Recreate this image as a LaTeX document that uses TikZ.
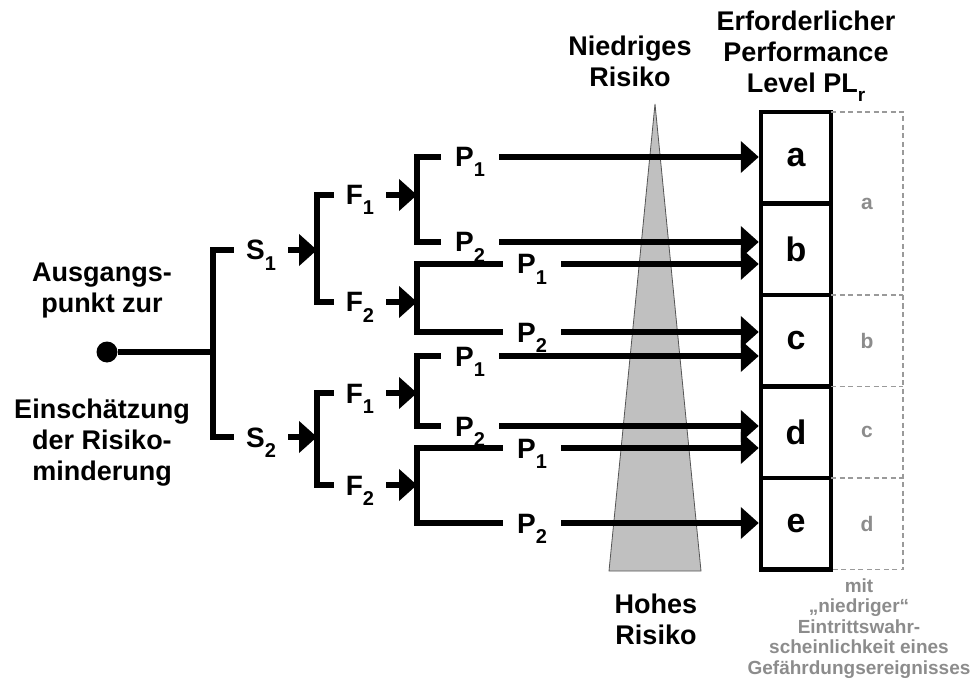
\documentclass[tikz,border=0pt]{standalone}
\usepackage{fontspec}
\setmainfont{Liberation Sans}
\usetikzlibrary{arrows.meta}

\definecolor{conegray}{HTML}{C0C0C0}
\definecolor{conerim}{HTML}{555555}
\definecolor{framegray}{HTML}{9A9A9A}
\definecolor{notegray}{HTML}{8C8C8C}

% lowered index for the risk parameters
\newcommand\idx[1]{\raisebox{-10pt}{\fontsize{20}{20}\selectfont #1}}
\newcommand\hidx[1]{\raisebox{-9pt}{\fontsize{19}{19}\selectfont #1}}

\begin{document}
\begin{tikzpicture}[x=1pt,y=-1pt,
  wire/.style={line width=6.5pt},
  flow/.style={wire,-{Triangle[length=18pt,width=31pt]}},
  var/.style={font=\bfseries\fontsize{28}{28}\selectfont, inner xsep=12pt,
    inner ysep=0pt, text height=20pt, text depth=0pt},
  pvar/.style={var, inner xsep=14pt},
  heading/.style={font=\bfseries\fontsize{27}{31}\selectfont, align=center,
    inner sep=0pt, anchor=north},
  level/.style={draw, line width=4.5pt, outer sep=0pt, minimum width=70pt,
    minimum height=91.5pt, inner sep=0pt,
    font=\bfseries\fontsize{34}{34}\selectfont},
  frame/.style={draw=framegray, line width=1.4pt, dash pattern=on 5pt off 3.5pt},
  grade/.style={text=notegray, font=\bfseries\fontsize{21}{21}\selectfont},
  remark/.style={text=notegray, font=\bfseries\fontsize{19}{20.5}\selectfont,
    align=center, inner sep=0pt, anchor=north}
]
\useasboundingbox (0,0) rectangle (975,679);

% risk cone from low to high risk
\coordinate (apex) at (655,104);
\coordinate (baseL) at (609,571);
\coordinate (baseR) at (701,571);
\filldraw[fill=conegray, draw=conerim, line width=0.8pt]
  (apex) -- (baseR) -- (baseL) -- cycle;

% titles
\node[heading] (low) at (630,35.5) {Niedriges\\Risiko};
\node[heading] (high) at (656,593.5) {Hohes\\Risiko};
\node[heading] (req) at (806,10.5) {Erforderlicher\\Performance\\Level PL\hidx{r}};
\node[heading] (orig1) at (102,263) {Ausgangs-\\punkt zur};
\node[heading] (orig2) at (102,398.3) {Einschätzung\\der Risiko-\\minderung};

% starting point and junctions
\node[circle, fill, inner sep=0pt, minimum size=21pt] (start) at (107,352) {};
\coordinate (jS) at (213,352);
\coordinate (jS1) at (317,250);
\coordinate (jS2) at (317,437);
\coordinate (jF11) at (417,195);
\coordinate (jF12) at (417,302);
\coordinate (jF21) at (417,393);
\coordinate (jF22) at (417,485);

% parameter labels
\node[var] (S1) at (261,250) {S\idx{1}};
\node[var] (S2) at (261,437) {S\idx{2}};
\node[var] (F11) at (360,195) {F\idx{1}};
\node[var] (F12) at (360,302) {F\idx{2}};
\node[var] (F21) at (360,393) {F\idx{1}};
\node[var] (F22) at (360,485) {F\idx{2}};
\node[pvar] (Pa1) at (470,157) {P\idx{1}};
\node[pvar] (Pa2) at (470,242) {P\idx{2}};
\node[pvar] (Pb1) at (532,264) {P\idx{1}};
\node[pvar] (Pb2) at (532,332) {P\idx{2}};
\node[pvar] (Pc1) at (470,356) {P\idx{1}};
\node[pvar] (Pc2) at (470,426) {P\idx{2}};
\node[pvar] (Pd1) at (532,448) {P\idx{1}};
\node[pvar] (Pd2) at (532,523) {P\idx{2}};

% required performance levels
\node[level] (La) at (796,157.75) {a};
\node[level] (Lb) at (796,249.25) {b};
\node[level] (Lc) at (796,340.75) {c};
\node[level] (Ld) at (796,432.25) {d};
\node[level] (Le) at (796,523.75) {e};

% tree
\draw[wire] (start) -- (jS);
\draw[wire] (S1.west) -| (jS) |- (S2.west);
\draw[flow] (S1.east) -- (jS1);
\draw[flow] (S2.east) -- (jS2);
\draw[wire] (F11.west) -| (jS1) |- (F12.west);
\draw[wire] (F21.west) -| (jS2) |- (F22.west);
\draw[flow] (F11.east) -- (jF11);
\draw[flow] (F12.east) -- (jF12);
\draw[flow] (F21.east) -- (jF21);
\draw[flow] (F22.east) -- (jF22);
\draw[wire] (Pa1.west) -| (jF11) |- (Pa2.west);
\draw[wire] (Pb1.west) -| (jF12) |- (Pb2.west);
\draw[wire] (Pc1.west) -| (jF21) |- (Pc2.west);
\draw[wire] (Pd1.west) -| (jF22) |- (Pd2.west);

% arrows into the levels
\begin{scope}[shorten >=2.25pt]
\draw[flow] (Pa1.east) -- (Pa1.east -| La.west);
\draw[flow] (Pa2.east) -- (Pa2.east -| Lb.west);
\draw[flow] (Pb1.east) -- (Pb1.east -| Lb.west);
\draw[flow] (Pb2.east) -- (Pb2.east -| Lc.west);
\draw[flow] (Pc1.east) -- (Pc1.east -| Lc.west);
\draw[flow] (Pc2.east) -- (Pc2.east -| Ld.west);
\draw[flow] (Pd1.east) -- (Pd1.east -| Ld.west);
\draw[flow] (Pd2.east) -- (Pd2.east -| Le.west);
\end{scope}

% levels for a low probability of occurrence
\coordinate (ftop) at (903,112);
\coordinate (fbot) at (903,569.5);
\draw[frame] (La.north east) -- (La.north east -| ftop) -- (fbot) -- (Le.south east);
\draw[frame] (Lc.north east) -- (Lc.north east -| ftop);
\draw[frame] (Ld.north east) -- (Ld.north east -| ftop);
\draw[frame] (Le.north east) -- (Le.north east -| ftop);
\node[grade] (ga) at (867,203.5) {a};
\node[grade] (gb) at (867,341) {b};
\node[grade] (gc) at (867,432) {c};
\node[grade] (gd) at (867,523.5) {d};
\node[remark] (note) at (859,578.5)
  {mit\\„niedriger“\\Eintrittswahr-\\scheinlichkeit eines\\Gefährdungsereignisses};
\end{tikzpicture}
\end{document}
